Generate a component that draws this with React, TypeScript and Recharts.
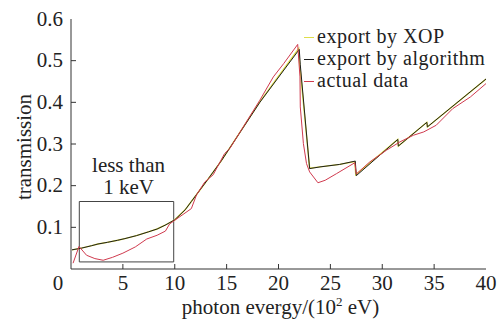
import React from "react";
import {
  LineChart,
  Line,
  XAxis,
  YAxis,
  ReferenceArea,
} from "recharts";

// ---------- data ----------
const algoX = [0.1, 1, 2, 2.6, 3.5, 4.5, 5.2, 6.3, 7.45, 8.3, 9.06, 10, 11, 11.6, 13.1, 14.5, 18.2, 22.0, 22.1, 23.0, 24.0, 25.9, 27.4, 27.5, 31.5, 31.55, 34.3, 34.35, 40];
const algoY = [0.046, 0.050, 0.056, 0.060, 0.064, 0.069, 0.073, 0.080, 0.089, 0.096, 0.105, 0.118, 0.142, 0.162, 0.212, 0.260, 0.400, 0.527, 0.49, 0.241, 0.245, 0.251, 0.259, 0.224, 0.311, 0.295, 0.352, 0.341, 0.456];

const xopX = [0.1, 1, 2, 2.6, 3.5, 4.5, 5.2, 6.3, 7.45, 8.3, 9.06, 10, 11, 11.6, 13.1, 14.5, 18.2, 21.95, 22.05, 23.0, 24.0, 25.9, 27.35, 27.45, 31.5, 31.55, 34.3, 34.35, 40];
const xopY = [0.046, 0.050, 0.056, 0.060, 0.064, 0.069, 0.073, 0.080, 0.089, 0.096, 0.105, 0.118, 0.142, 0.162, 0.212, 0.260, 0.401, 0.529, 0.49, 0.242, 0.245, 0.251, 0.258, 0.226, 0.311, 0.295, 0.352, 0.341, 0.456];

const actualX = [0.2, 0.77, 1.5, 2.3, 3.1, 4.0, 5.0, 6.2, 7.3, 8.3, 9.1, 9.5, 10, 11.6, 12.1, 12.9, 13.7, 14.8, 15.3, 18.2, 19.5, 20.5, 21.85, 22.07, 22.1, 22.4, 22.7, 23.0, 23.8, 24.5, 25.6, 27.35, 27.5, 28.8, 30.4, 31.7, 33.0, 34.0, 35.2, 36.8, 38.5, 40];
const actualY = [0.014, 0.054, 0.033, 0.025, 0.021, 0.028, 0.038, 0.053, 0.072, 0.081, 0.091, 0.108, 0.117, 0.145, 0.178, 0.209, 0.226, 0.277, 0.289, 0.405, 0.461, 0.493, 0.539, 0.461, 0.389, 0.301, 0.253, 0.233, 0.207, 0.213, 0.229, 0.255, 0.228, 0.257, 0.285, 0.305, 0.321, 0.329, 0.345, 0.385, 0.413, 0.445];

const xTicks = [0, 5, 10, 15, 20, 25, 30, 35, 40];
const yTicks = [0.1, 0.2, 0.3, 0.4, 0.5, 0.6];

const seriesNames = ["export by XOP", "export by algorithm", "actual data"];
const seriesColors = ["#dede4a", "#1e1e1e", "#d03a4e"];

const boxX = [0.8, 9.9];
const boxY = [0.017, 0.162];

const toPts = (xs: number[], ys: number[]) => xs.map((x, i) => ({ x, y: ys[i] }));
const xopData = toPts(xopX, xopY);
const algoData = toPts(algoX, algoY);
const actualData = toPts(actualX, actualY);

const FONT = "Liberation Serif, serif";
const FS = 21;
const AXIS = "#333";
const TXT = "#222";

const XTick = (props: any) => {
  const { x, y, payload } = props;
  const shift = payload.value === 0 ? -13 : 0;
  return (
    <g>
      {payload.value !== 0 && payload.value !== 40 && (
        <line x1={x} x2={x} y1={y} y2={y - 5} stroke={AXIS} strokeWidth={1} />
      )}
      <text x={x + shift} y={y + 21} textAnchor="middle" style={{ fontFamily: FONT }} fontSize={FS} fill={TXT}>
        {payload.value}
      </text>
    </g>
  );
};

const YTick = (props: any) => {
  const { x, y, payload } = props;
  return (
    <g>
      {payload.value !== 0.6 && (
        <line x1={x} x2={x + 5} y1={y} y2={y} stroke={AXIS} strokeWidth={1} />
      )}
      <text x={x - 8} y={y + 6.5} textAnchor="end" style={{ fontFamily: FONT }} fontSize={FS} fill={TXT}>
        {payload.value}
      </text>
    </g>
  );
};

const XLabel = (props: any) => {
  const vb = props.viewBox;
  return (
    <text x={vb.x + vb.width / 2 + 2} y={vb.y + 45} textAnchor="middle" style={{ fontFamily: FONT }} fontSize={FS} fill={TXT}>
      photon evergy/(10
      <tspan dy={-8} fontSize={13}>2</tspan>
      <tspan dy={8}> eV)</tspan>
    </text>
  );
};

const YLabel = (props: any) => {
  const vb = props.viewBox;
  const cx = 31;
  const cy = vb.y + vb.height / 2 + 3;
  return (
    <text x={cx} y={cy} transform={`rotate(-90 ${cx} ${cy})`} textAnchor="middle" style={{ fontFamily: FONT }} fontSize={FS} fill={TXT}>
      transmission
    </text>
  );
};

const BoxLabel = (props: any) => {
  const vb = props.viewBox;
  const cx = vb.x + vb.width / 2 + 2;
  return (
    <g>
      <text x={cx} y={vb.y - 30} textAnchor="middle" style={{ fontFamily: FONT }} fontSize={FS} fill={TXT}>less than</text>
      <text x={cx} y={vb.y - 8} textAnchor="middle" style={{ fontFamily: FONT }} fontSize={FS} fill={TXT}>1 keV</text>
    </g>
  );
};

const LegendBox = () => (
  <div style={{ position: "absolute", left: 304, top: 25, fontFamily: FONT, fontSize: 20, letterSpacing: "0.5px", lineHeight: "22px", color: TXT }}>
    {seriesNames.map((n, i) => (
      <div key={n} style={{ display: "flex", alignItems: "center", whiteSpace: "nowrap", height: 22 }}>
        <span style={{ display: "inline-block", width: 10, height: 0, borderTop: `1.5px solid ${seriesColors[i]}`, marginRight: 3, marginTop: 3 }} />
        <span>{n}</span>
      </div>
    ))}
  </div>
);

export default function App() {
  return (
    <div style={{ position: "absolute", left: 0, top: 0, width: 501, height: 320, background: "#fff" }}>
      <LineChart width={501} height={320} margin={{ top: 19, right: 15, bottom: 0, left: 0 }}>
        <XAxis
          dataKey="x"
          type="number"
          domain={[0, 40]}
          ticks={xTicks}
          interval={0}
          allowDataOverflow
          height={51}
          stroke={AXIS}
          tickSize={0}
          tickMargin={0}
          tickLine={false}
          tick={<XTick />}
          label={<XLabel />}
        />
        <XAxis xAxisId="top" orientation="top" type="number" domain={[0, 40]} height={0} tick={false} tickLine={false} stroke={AXIS} />
        <YAxis
          type="number"
          domain={[0, 0.6]}
          ticks={yTicks}
          interval={0}
          width={71}
          stroke={AXIS}
          tickSize={0}
          tickMargin={0}
          tickLine={false}
          tick={<YTick />}
          label={<YLabel />}
        />
        <YAxis yAxisId="right" orientation="right" domain={[0, 0.6]} width={0} tick={false} tickLine={false} stroke={AXIS} />
        <ReferenceArea
          x1={boxX[0]}
          x2={boxX[1]}
          y1={boxY[0]}
          y2={boxY[1]}
          fill="none"
          fillOpacity={0}
          stroke="#444"
          strokeWidth={1}
          label={<BoxLabel />}
        />
        <Line data={xopData} dataKey="y" name={seriesNames[0]} stroke={seriesColors[0]} strokeWidth={1.4} dot={false} isAnimationActive={false} type="linear" />
        <Line data={algoData} dataKey="y" name={seriesNames[1]} stroke={seriesColors[1]} strokeWidth={1} dot={false} isAnimationActive={false} type="linear" />
        <Line data={actualData} dataKey="y" name={seriesNames[2]} stroke={seriesColors[2]} strokeWidth={1} dot={false} isAnimationActive={false} type="linear" />
      </LineChart>
      <LegendBox />
    </div>
  );
}
